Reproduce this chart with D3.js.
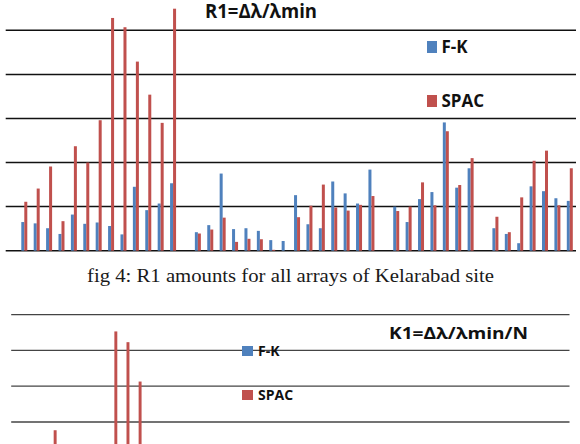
<!DOCTYPE html>
<html>
<head>
<meta charset="utf-8">
<script src="https://cdn.jsdelivr.net/npm/d3@7"></script>
<style>
  body { margin: 0; background: #fff; }
  svg { display: block; }
  .grid line { stroke: #111; stroke-width: 1.5; }
  .grid2 line { stroke: #444; stroke-width: 1.3; }
</style>
</head>
<body>
<div id="chart"></div>
<script>
// Categories: 46 slots, empty ones separate the array groups
const categories = d3.range(46).map(i => "c" + i);
const seriesNames = ["F-K", "SPAC"];
const gridValues = [0, 1, 2, 3, 4, 5];

// R1 = Δλ/λmin (top chart)
const r1Fk = [null,
  0.65, 0.62, 0.51, 0.38, 0.82, 0.61, 0.64, 0.56, 0.37, 1.45, 0.92, 1.07, 1.53,
  null,
  0.42, 0.58, 1.75, 0.49, 0.51, 0.45, 0.24, 0.22, 1.26, 0.60, 0.51, 1.57, 1.30, 1.07, 1.84,
  null,
  1.00, 0.65, 1.17, 1.33, 2.91, 1.43, 1.87,
  null,
  0.51, 0.38, 0.17, 1.46, 1.35, 1.19, 1.13];
const r1Spac = [null,
  1.11, 1.41, 1.91, 0.67, 2.37, 2.00, 2.96, 5.28, 5.07, 4.29, 3.54, 2.90, 5.49,
  null,
  0.39, 0.48, 0.75, 0.20, 0.27, 0.26, 0.02, 0.00, 0.76, 1.02, 1.50, 0.98, 0.91, 1.04, 1.24,
  null,
  0.90, 1.00, 1.55, 1.03, 2.71, 1.49, 2.10,
  null,
  0.77, 0.42, 1.21, 2.04, 2.27, 1.03, 1.87];

// K1 = Δλ/λmin/N (bottom chart, mostly cut off by the page edge)
const k1Fk = [null,
  0.30, 0.28, 0.25, 0.20, 0.35, 0.28, 0.30, 0.45, 0.30, 0.90, 0.55, 0.50, 0.40,
  null,
  0.20, 0.25, 0.60, 0.20, 0.22, 0.20, 0.10, 0.10, 0.50, 0.25, 0.20, 0.60, 0.50, 0.40, 0.70,
  null,
  0.40, 0.30, 0.45, 0.50, 1.00, 0.55, 0.70,
  null,
  0.20, 0.15, 0.08, 0.55, 0.50, 0.45, 0.40];
const k1Spac = [null,
  0.90, 1.10, 1.77, 0.50, 1.20, 1.00, 1.30, 4.53, 4.23, 3.13, 1.20, 0.90, 1.10,
  null,
  0.20, 0.25, 0.35, 0.10, 0.12, 0.12, 0.01, 0.00, 0.35, 0.45, 0.60, 0.40, 0.40, 0.45, 0.50,
  null,
  0.40, 0.45, 0.65, 0.45, 1.10, 0.60, 0.85,
  null,
  0.35, 0.20, 0.50, 0.85, 0.95, 0.45, 0.80];

const colors = { "F-K": "#4f81bd", "SPAC": "#c0504d" };

const W = 580, H = 444;
const svg = d3.select("#chart").append("svg")
  .attr("width", W)
  .attr("height", H);

function drawPanel(opts) {
  const x0 = d3.scaleBand()
    .domain(categories)
    .range([opts.left, opts.right])
    .paddingInner(0.516)
    .paddingOuter(0.258);
  const x1 = d3.scaleBand()
    .domain(seriesNames)
    .range([0, x0.bandwidth()]);
  const y = d3.scaleLinear()
    .domain([0, 5])
    .range([opts.base, opts.top]);

  // horizontal gridlines
  const grid = svg.append("g").attr("class", opts.gridClass);
  grid.selectAll("line")
    .data(gridValues)
    .enter()
    .append("line")
    .attr("x1", opts.left)
    .attr("x2", opts.right)
    .attr("y1", d => y(d))
    .attr("y2", d => y(d));

  const rows = categories.map((c, i) => ({
    cat: c,
    vals: [
      { s: "F-K", v: opts.fk[i] },
      { s: "SPAC", v: opts.spac[i] }
    ]
  }));

  const groups = svg.append("g").selectAll("g")
    .data(rows)
    .enter()
    .append("g")
    .attr("transform", d => `translate(${x0(d.cat)},0)`);

  groups.selectAll("rect")
    .data(d => d.vals.filter(v => v.v != null))
    .enter()
    .append("rect")
    .attr("x", d => x1(d.s))
    .attr("width", x1.bandwidth())
    .attr("y", d => y(d.v))
    .attr("height", d => y(0) - y(d.v))
    .attr("fill", d => colors[d.s]);
}

// top chart
drawPanel({ left: 5.7, right: 576, top: 30.3, base: 250.7, fk: r1Fk, spac: r1Spac, gridClass: "grid" });

svg.append("text")
  .attr("x", 205)
  .attr("y", 18)
  .attr("font-family", "Open Sans, sans-serif")
  .attr("font-weight", "bold")
  .attr("font-size", 19)
  .attr("textLength", 112)
  .attr("lengthAdjust", "spacingAndGlyphs")
  .attr("fill", "#111")
  .text("R1=Δλ/λmin");

// top legend
const legend1 = svg.append("g");
seriesNames.forEach((s, i) => {
  const ly = 40 + i * 54;
  legend1.append("rect")
    .attr("x", 427).attr("y", ly + 1)
    .attr("width", 10).attr("height", 12)
    .attr("fill", colors[s]);
  legend1.append("text")
    .attr("x", 441.5).attr("y", ly + 13)
    .attr("font-family", "Open Sans, sans-serif")
    .attr("font-weight", "bold")
    .attr("font-size", 17)
    .attr("fill", "#111")
    .text(s);
});

// caption
svg.append("text")
  .attr("x", 87)
  .attr("y", 281.5)
  .attr("font-family", "Liberation Serif, serif")
  .attr("font-size", 19.5)
  .attr("textLength", 407)
  .attr("lengthAdjust", "spacingAndGlyphs")
  .attr("fill", "#1a1a1a")
  .text("fig 4: R1 amounts for all arrays of Kelarabad site");

// bottom chart (cut by the page edge)
drawPanel({ left: 11.2, right: 569.5, top: 314.6, base: 493.6, fk: k1Fk, spac: k1Spac, gridClass: "grid2" });

svg.append("text")
  .attr("x", 389)
  .attr("y", 338.5)
  .attr("font-family", "Open Sans, sans-serif")
  .attr("font-weight", "bold")
  .attr("font-size", 16)
  .attr("textLength", 139)
  .attr("lengthAdjust", "spacingAndGlyphs")
  .attr("fill", "#111")
  .text("K1=Δλ/λmin/N");

const legend2 = svg.append("g");
seriesNames.forEach((s, i) => {
  const ly = 346 + i * 44;
  legend2.append("rect")
    .attr("x", 242).attr("y", ly)
    .attr("width", 11).attr("height", 10)
    .attr("fill", colors[s]);
  legend2.append("text")
    .attr("x", 258).attr("y", ly + 10)
    .attr("font-family", "Open Sans, sans-serif")
    .attr("font-weight", "bold")
    .attr("font-size", 14)
    .attr("fill", "#111")
    .text(s);
});
</script>
</body>
</html>
